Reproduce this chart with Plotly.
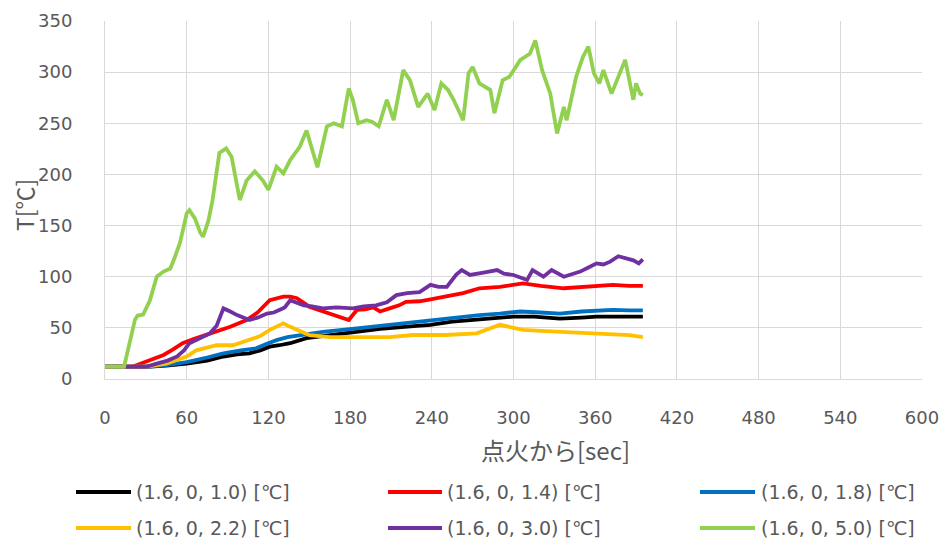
import plotly.graph_objects as go

# Temperature histories after ignition, measured at six heights (x, y, z) [m]
series_names = ["(1.6, 0, 1.0) [℃]", "(1.6, 0, 1.4) [℃]", "(1.6, 0, 1.8) [℃]",
                "(1.6, 0, 2.2) [℃]", "(1.6, 0, 3.0) [℃]", "(1.6, 0, 5.0) [℃]"]
series_colors = ["#000000", "#ff0000", "#0070c0", "#ffc000", "#7030a0", "#92d050"]

t_z10 = [0, 30, 45, 60, 75, 87, 97, 106, 114, 121, 128, 136, 148, 165, 180, 202, 229, 239, 255, 275, 300, 315, 334, 350, 361, 380, 395]
T_z10 = [12, 12, 13, 15, 18, 22, 24, 25, 28, 31.6, 33, 35, 40, 43, 46, 49, 52, 53, 56, 58, 61, 61, 59, 60, 61, 61, 61]

t_z14 = [0, 20, 26, 35, 43, 50, 57, 65, 77, 92, 104, 112, 121, 126, 131, 136, 141, 150, 158, 165, 172, 179, 185, 191, 197, 202, 209, 216, 221, 231, 240, 251, 263, 275, 290, 307, 320, 337, 355, 373, 385, 395]
T_z14 = [12, 12, 15, 19, 23.5, 29, 35, 39, 44.6, 51, 57.7, 65, 77, 79, 80.5, 80.5, 79, 70.7, 67, 64, 61, 57.7, 67.5, 68, 70, 66, 69, 72, 75.5, 76, 78, 80.5, 84, 88.7, 90, 93.5, 91, 88.7, 90, 92, 91, 91]

t_z18 = [0, 30, 45, 60, 75, 87, 100, 111, 118, 126, 134, 143, 160, 185, 209, 231, 239, 255, 275, 290, 305, 320, 334, 350, 373, 385, 395]
T_z18 = [12, 12, 13.5, 16.5, 21, 25, 28, 30, 34, 38, 41, 43, 46, 49.5, 53, 57, 58, 60, 62.5, 64, 66, 65, 64, 66, 67.5, 67, 67]

t_z22 = [0, 30, 45, 60, 67, 75, 82, 94, 106, 114, 121, 126, 131, 136, 141, 150, 165, 185, 209, 226, 250, 273, 282, 290, 300, 307, 320, 337, 355, 373, 385, 395]
T_z22 = [12, 12, 15, 22, 28, 31, 33, 33, 38, 42, 48, 51, 54.4, 51, 48, 43, 41, 41, 41, 43, 43, 44.6, 49, 53, 50, 48, 47, 46, 45.5, 44.6, 43, 41]

t_z30 = [0, 30, 38, 46, 53, 58, 62, 70, 77, 82, 87, 92, 97, 106, 112, 119, 124, 128, 132, 136, 140, 146, 152, 160, 170, 182, 190, 199, 207, 214, 222, 231, 239, 245, 251, 255, 258, 262, 268, 278, 288, 293, 300, 310, 314, 322, 328, 337, 342, 349, 355, 361, 366, 371, 377, 382, 388, 392, 395]
T_z30 = [12, 12, 15, 18, 22, 28, 35, 40, 44.6, 52, 69, 66, 62.5, 57.7, 60, 64, 65, 67.5, 70, 77, 75, 72, 71, 69, 70, 69, 71, 72, 75, 82, 84, 85, 92, 90, 90, 96.8, 102, 106.5, 101.7, 104, 106.5, 103, 101.7, 96.8, 106.5, 100, 106.5, 100, 102, 105, 109, 113, 112, 114.7, 120, 118, 116, 113, 117]

t_z50 = [0, 14, 18, 22, 24, 28, 33, 36, 38, 43, 48, 51, 55, 58, 60, 62, 66, 70, 72, 76, 79, 84, 89, 93, 99, 104, 110, 116, 120, 126, 131, 136, 143, 148, 152, 156, 160, 163, 168, 174, 179, 182, 186, 192, 196, 201, 207, 212, 219, 224, 230, 237, 242, 247, 252, 256, 263, 267, 270, 275, 283, 286, 292, 297, 305, 312, 316, 318, 321, 327, 332, 337, 339, 346, 351, 355, 359, 363, 366, 372, 376, 382, 384, 388, 390, 393, 395]
T_z50 = [12, 12, 35, 58, 62, 63, 77, 90, 100, 105, 108, 118, 133, 150, 162, 165, 157, 143, 139, 155, 175, 221, 225.5, 217, 175, 194, 203, 194, 185, 207.5, 201, 214, 227, 243, 225, 207, 230, 247, 250, 247, 284, 273, 250, 253, 251.5, 247, 273, 253, 302, 292, 266, 279, 263, 289, 282.5, 273, 253, 299, 305, 289, 282.5, 260, 292, 295.5, 312, 318, 331, 318, 302, 279, 240, 266, 253, 295.5, 315, 325, 299, 289, 302, 279, 292, 312, 299, 273, 289, 279, 277.5]

times = [t_z10, t_z14, t_z18, t_z22, t_z30, t_z50]
temps = [T_z10, T_z14, T_z18, T_z22, T_z30, T_z50]

x_ticks = list(range(0, 601, 60))
y_ticks = list(range(0, 351, 50))

FONT = "DejaVu Sans, Noto Sans CJK JP, sans-serif"
TITLE_FONT = "Noto Sans CJK JP, DejaVu Sans, sans-serif"
GREY = "#595959"
GRID = "#d9d9d9"

W, H = 943, 544
L, R, T, B = 105, 21, 21, 165
pw, ph = W - L - R, H - T - B


def px(xp):
    return (xp - L) / pw


def py(yp):
    return (H - B - yp) / ph


fig = go.Figure()
for name, color, tx, ty in zip(series_names, series_colors, times, temps):
    fig.add_trace(go.Scatter(x=tx, y=ty, mode="lines", name=name,
                             line=dict(color=color, width=3.8),
                             showlegend=False))

# Legend drawn as line samples and labels below the plot, three per row
legend_cols = [(76, 131, 134), (388, 442, 445), (700, 755, 759)]
legend_rows = [492, 528]
shapes = []
annotations = []
for i, (name, color) in enumerate(zip(series_names, series_colors)):
    x0, x1, xt = legend_cols[i % 3]
    yr = legend_rows[i // 3]
    shapes.append(dict(type="line", xref="paper", yref="paper",
                       x0=px(x0), x1=px(x1), y0=py(yr), y1=py(yr),
                       line=dict(color=color, width=4)))
    annotations.append(dict(text=name, xref="paper", yref="paper",
                            x=px(xt), y=py(yr), xanchor="left", yanchor="middle",
                            showarrow=False, font=dict(size=19, color=GREY, family=FONT)))

annotations.append(dict(text="点火から[sec]", xref="paper", yref="paper",
                        x=px(555), y=py(449), xanchor="center", yanchor="middle",
                        showarrow=False, font=dict(size=24, color=GREY, family=TITLE_FONT)))
annotations.append(dict(text="T[℃]", xref="paper", yref="paper",
                        x=px(24), y=py(205), xanchor="center", yanchor="middle",
                        textangle=-90, showarrow=False,
                        font=dict(size=23, color=GREY, family=TITLE_FONT)))

fig.update_layout(
    width=W, height=H,
    margin=dict(l=L, r=R, t=T, b=B),
    paper_bgcolor="white", plot_bgcolor="white",
    font=dict(family=FONT, color=GREY, size=18),
    shapes=shapes, annotations=annotations,
    showlegend=False,
)
fig.update_xaxes(range=[0, 600], tickvals=x_ticks, showgrid=True, gridcolor=GRID,
                 gridwidth=1, zeroline=False, showline=True, linecolor=GRID,
                 automargin=False, ticks="", ticklabelstandoff=22,
                 tickfont=dict(size=18, color=GREY))
fig.update_yaxes(range=[0, 350], tickvals=y_ticks, showgrid=True, gridcolor=GRID,
                 gridwidth=1, zeroline=False, showline=True, linecolor=GRID,
                 automargin=False, ticks="", ticklabelstandoff=28,
                 tickfont=dict(size=18, color=GREY))

fig.write_html("out.html")
